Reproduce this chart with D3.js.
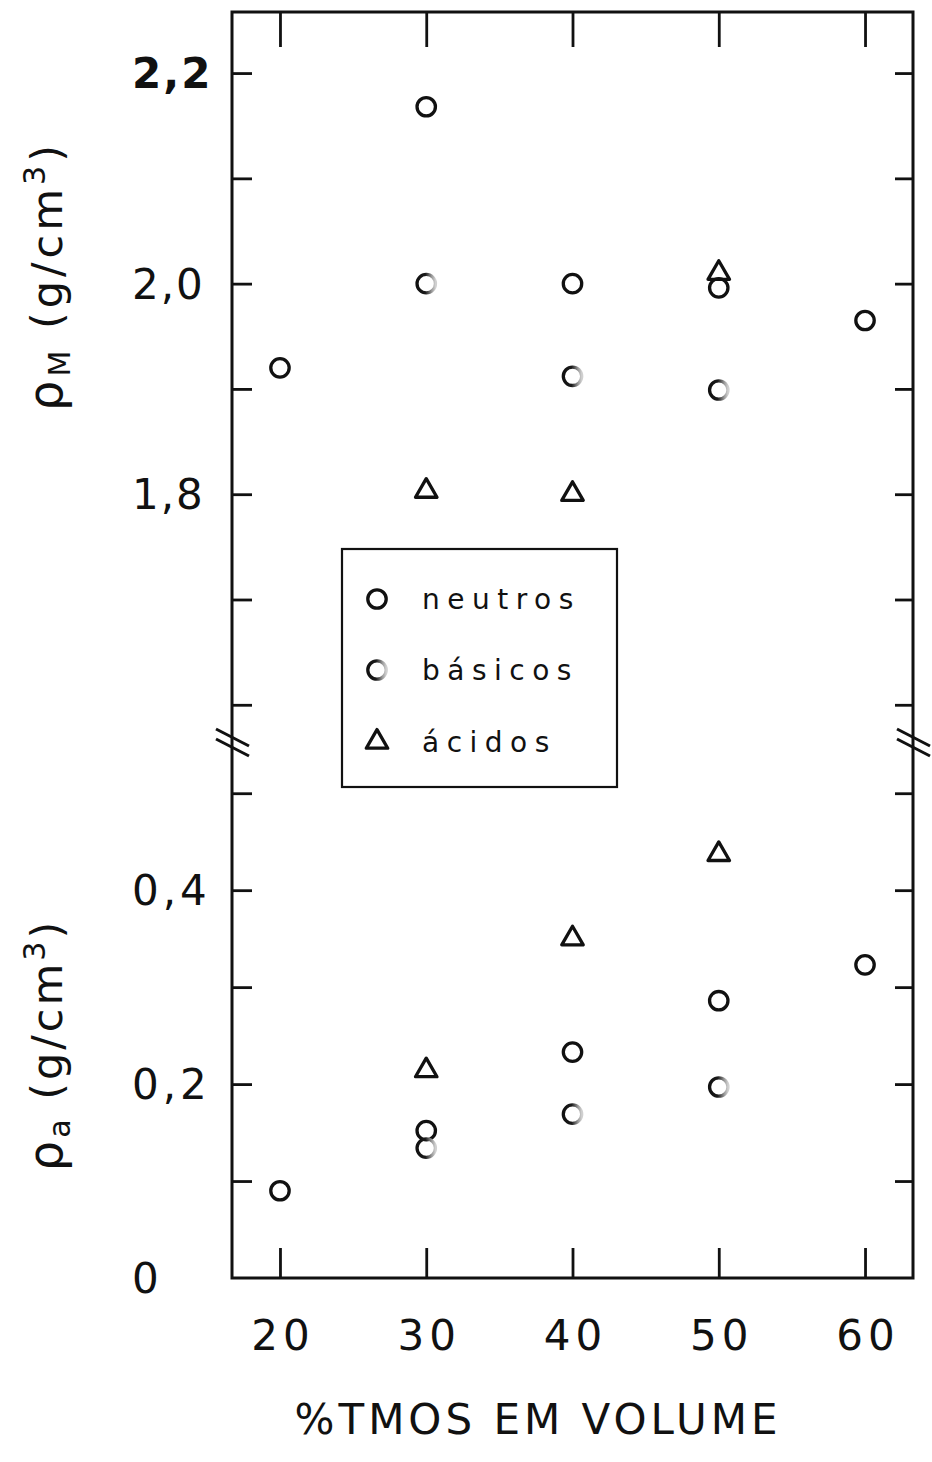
<!DOCTYPE html>
<html>
<head>
<meta charset="utf-8">
<script src="https://cdn.jsdelivr.net/npm/d3@7"></script>
<style>
  html, body { margin: 0; padding: 0; background: #fff; }
  svg { display: block; }
  text { font-family: "DejaVu Sans", sans-serif; fill: #111; }
</style>
</head>
<body>
<svg id="chart" width="932" height="1462"></svg>
<script>
// % TMOS em volume (x axis)
const tmos = [20, 30, 40, 50, 60];
const xTickValues = [20, 30, 40, 50, 60];

// Upper panel: ρM (g/cm³)
const neutrosM_x = [20, 30, 40, 50, 60];
const neutrosM   = [1.920, 2.168, 2.000, 1.996, 1.965];
const basicosM_x = [30, 40, 50];
const basicosM   = [2.000, 1.912, 1.899];
const acidosM_x  = [30, 40, 50];
const acidosM    = [1.803, 1.800, 2.010];

// Lower panel: ρa (g/cm³)
const neutrosA_x = [20, 30, 40, 50, 60];
const neutrosA   = [0.090, 0.152, 0.233, 0.286, 0.323];
const basicosA_x = [30, 40, 50];
const basicosA   = [0.134, 0.169, 0.197];
const acidosA_x  = [30, 40, 50];
const acidosA    = [0.214, 0.350, 0.437];

// Axis ticks and labels
const upperTickValues  = [1.6, 1.7, 1.8, 1.9, 2.0, 2.1, 2.2];
const upperLabelValues = [1.8, 2.0, 2.2];
const upperLabelText   = ["1,8", "2,0", "2,2"];
const lowerTickValues  = [0.1, 0.2, 0.3, 0.4, 0.5];
const lowerLabelValues = [0, 0.2, 0.4];
const lowerLabelText   = ["0", "0,2", "0,4"];

const legendNames = ["neutros", "básicos", "ácidos"];

const svg = d3.select("#chart");
const plotLeft = 232, plotRight = 913, plotTop = 12, plotBottom = 1278, breakY = 743;

const x = d3.scaleLinear().domain([16.72, 63.28]).range([plotLeft, plotRight]);
const yM = d3.scaleLinear().domain([1.5637, 2.258]).range([breakY, plotTop]);
const yA = d3.scaleLinear().domain([0, 0.5518]).range([plotBottom, breakY]);

const ink = "#111";

// gradient stroke for the "básicos" marker (dark left, faded right)
const defs = svg.append("defs");
const grad = defs.append("linearGradient").attr("id", "basGrad")
  .attr("x1", "0").attr("y1", "0").attr("x2", "1").attr("y2", "0");
grad.append("stop").attr("offset", "0").attr("stop-color", "#111");
grad.append("stop").attr("offset", "0.45").attr("stop-color", "#1a1a1a");
grad.append("stop").attr("offset", "0.8").attr("stop-color", "#9a9a9a");
grad.append("stop").attr("offset", "1").attr("stop-color", "#d0d0d0");

// Ticks via d3 axes (inward)
function cleanAxis(g) {
  g.select(".domain").remove();
  g.selectAll(".tick line").attr("stroke", ink).attr("stroke-width", 2.8);
  g.selectAll(".tick text").remove();
}
svg.append("g").attr("transform", `translate(0,${plotBottom})`)
  .call(d3.axisBottom(x).tickValues(xTickValues).tickSize(-30)).call(cleanAxis);
svg.append("g").attr("transform", `translate(0,${plotTop})`)
  .call(d3.axisTop(x).tickValues(xTickValues).tickSize(-35)).call(cleanAxis);
svg.append("g").attr("transform", `translate(${plotLeft},0)`)
  .call(d3.axisLeft(yM).tickValues(upperTickValues).tickSize(-20)).call(cleanAxis);
svg.append("g").attr("transform", `translate(${plotRight},0)`)
  .call(d3.axisRight(yM).tickValues(upperTickValues).tickSize(-18)).call(cleanAxis);
svg.append("g").attr("transform", `translate(${plotLeft},0)`)
  .call(d3.axisLeft(yA).tickValues(lowerTickValues).tickSize(-20)).call(cleanAxis);
svg.append("g").attr("transform", `translate(${plotRight},0)`)
  .call(d3.axisRight(yA).tickValues(lowerTickValues).tickSize(-18)).call(cleanAxis);

// Frame
svg.append("rect").attr("x", plotLeft).attr("y", plotTop)
  .attr("width", plotRight - plotLeft).attr("height", plotBottom - plotTop)
  .attr("fill", "none").attr("stroke", ink).attr("stroke-width", 3);

// Axis break marks
[plotLeft, plotRight].forEach(ax => {
  [-10, 0].forEach(off => {
    svg.append("line")
      .attr("x1", ax - 16).attr("y1", breakY + off - 4)
      .attr("x2", ax + 17).attr("y2", breakY + off + 13)
      .attr("stroke", ink).attr("stroke-width", 3);
  });
});

// Tick labels
svg.append("g").selectAll("text").data(xTickValues).join("text")
  .attr("x", d => x(d) + 3).attr("y", 1350)
  .attr("text-anchor", "middle")
  .style("font-size", "42px").style("letter-spacing", "5px")
  .text(d => d);

svg.append("g").selectAll("text").data(upperLabelValues).join("text")
  .attr("x", 132).attr("y", d => yM(d) + 15)
  .style("font-size", "42px").style("letter-spacing", "2px")
  .style("font-weight", (d, i) => upperLabelText[i] === "2,2" ? "bold" : "normal")
  .text((d, i) => upperLabelText[i]);

svg.append("g").selectAll("text").data(lowerLabelValues).join("text")
  .attr("x", 132).attr("y", d => yA(d) + 15)
  .style("font-size", "42px").style("letter-spacing", "4px")
  .text((d, i) => lowerLabelText[i]);

// Axis titles
function yTitle(cy, sub, spacing) {
  const t = svg.append("text")
    .attr("transform", `translate(62,${cy}) rotate(-90)`)
    .attr("text-anchor", "middle")
    .style("font-size", "43px").style("letter-spacing", spacing + "px");
  t.append("tspan").style("font-size", "48px").text("ρ");
  t.append("tspan").attr("dy", 8).style("font-size", "30px").text(sub);
  t.append("tspan").attr("dy", -8).text(" (g/cm");
  t.append("tspan").attr("dy", -17).style("font-size", "30px").text("3");
  t.append("tspan").attr("dy", 17).text(")");
}
yTitle(276, "M", 4);
yTitle(1045, "a", 3);

svg.append("text").attr("x", 538).attr("y", 1434)
  .attr("text-anchor", "middle")
  .style("font-size", "42px").style("letter-spacing", "4px")
  .text("%TMOS EM VOLUME");

// Markers
const circleR = 9.2;
const markStroke = 3.3;
const tri = d3.symbol(d3.symbolTriangle, 200);

function circles(xs, ys, yScale, cls, basic) {
  svg.append("g").attr("class", cls).selectAll("circle").data(ys).join("circle")
    .attr("cx", (d, i) => x(xs[i])).attr("cy", d => yScale(d))
    .attr("r", circleR).attr("fill", "none")
    .attr("stroke", basic ? "url(#basGrad)" : ink).attr("stroke-width", markStroke);
}
function triangles(xs, ys, yScale, cls) {
  svg.append("g").attr("class", cls).selectAll("path").data(ys).join("path")
    .attr("d", tri)
    .attr("transform", (d, i) => `translate(${x(xs[i])},${yScale(d)})`)
    .attr("fill", "none").attr("stroke", ink).attr("stroke-width", markStroke)
    .attr("stroke-linejoin", "round");
}
circles(neutrosM_x, neutrosM, yM, "neutrosM", false);
circles(basicosM_x, basicosM, yM, "basicosM", true);
triangles(acidosM_x, acidosM, yM, "acidosM");
circles(neutrosA_x, neutrosA, yA, "neutrosA", false);
circles(basicosA_x, basicosA, yA, "basicosA", true);
triangles(acidosA_x, acidosA, yA, "acidosA");

// Legend
const lg = svg.append("g");
lg.append("rect").attr("x", 342).attr("y", 549).attr("width", 275).attr("height", 238)
  .attr("fill", "#fff").attr("stroke", ink).attr("stroke-width", 2.2);
const rowY = [599, 670, 742];
lg.append("circle").attr("cx", 377).attr("cy", rowY[0]).attr("r", circleR)
  .attr("fill", "none").attr("stroke", ink).attr("stroke-width", markStroke);
lg.append("circle").attr("cx", 377).attr("cy", rowY[1]).attr("r", circleR)
  .attr("fill", "none").attr("stroke", "url(#basGrad)").attr("stroke-width", markStroke);
lg.append("path").attr("d", tri).attr("transform", `translate(377,${rowY[2]})`)
  .attr("fill", "none").attr("stroke", ink).attr("stroke-width", markStroke)
  .attr("stroke-linejoin", "round");
lg.selectAll("text.leg").data(legendNames).join("text").attr("class", "leg")
  .attr("x", 422).attr("y", (d, i) => rowY[i] + 10)
  .style("font-size", "28px").style("letter-spacing", "7.5px")
  .text(d => d);
</script>
</body>
</html>
